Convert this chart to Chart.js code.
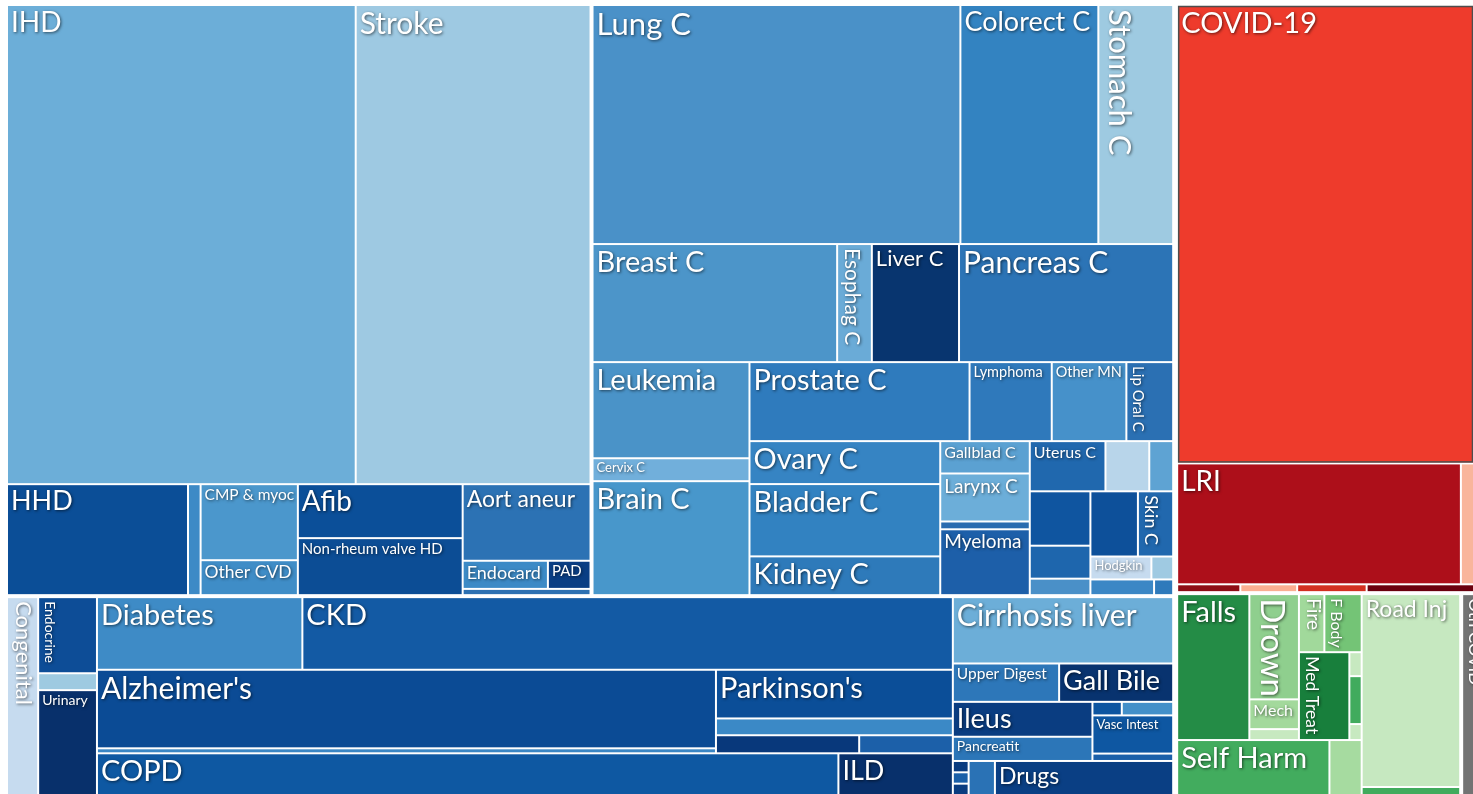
<!DOCTYPE html>
<html>
<head>
<meta charset="utf-8">
<script src="https://cdn.jsdelivr.net/npm/chart.js@4.4.1/dist/chart.umd.min.js"></script>
<style>
  html, body { margin: 0; padding: 0; background: #fff; overflow: hidden; }
  canvas { display: block; }
</style>
</head>
<body>
<canvas id="deaths" width="1476" height="797"></canvas>
<script>
// cardiovascular diseases
const cvdLabels = ['IHD', 'Stroke', 'HHD', '', 'CMP & myoc', 'Other CVD', 'Afib', 'Non-rheum valve HD', 'Aort aneur', 'Endocard', 'PAD', ''];
const cvdValues = [1672, 1126, 201, 14, 74, 34, 89, 94, 98, 24, 12, 8];
const cvdColors = ['#6caed8', '#9ec9e2', '#0b4e97', '#3d8ac6', '#4b97cc', '#3f8dc7', '#0b4f99', '#0c4d95', '#2c72b4', '#3c8ac6', '#0a3e84', '#2c70b2'];

// neoplasms
const neoLabels = ['Lung C', 'Colorect C', 'Stomach C', 'Breast C', 'Esophag C', 'Liver C', 'Pancreas C',
  'Leukemia', 'Cervix C', 'Brain C', 'Prostate C', 'Lymphoma', 'Other MN', 'Lip Oral C',
  'Ovary C', 'Bladder C', 'Kidney C', 'Gallblad C', 'Larynx C', '', 'Myeloma', 'Uterus C', '', '',
  '', '', '', '', 'Skin C', 'Hodgkin', '', '', ''];
const neoValues = [880, 330, 179, 289, 41, 103, 253,
  151, 36, 179, 174, 65, 59, 37,
  82, 138, 74, 29, 43, 7, 59, 38, 22, 12,
  33, 20, 10, 31, 23, 14, 5, 10, 3];
const neoColors = ['#4a91c8', '#3383c1', '#9ecae1', '#4c95c9', '#6aabd7', '#08356f', '#2c74b6',
  '#4a93c8', '#71afdb', '#4897cb', '#2f7bbd', '#2f79bb', '#4691ca', '#2b70b3',
  '#3684c3', '#3282c1', '#2e7aba', '#5ba1d2', '#6caed9', '#2a6cb0', '#1d5fa9', '#2068ae', '#b8d5ea', '#5ea3d3',
  '#0f55a0', '#1e66ad', '#4a90c8', '#0d509a', '#2168ae', '#c6dbef', '#9fcae2', '#3b87c5', '#2e7abb'];

// other non-communicable
const ncdLabels = ['Congenital', 'Endocrine', '', 'Urinary', 'Diabetes', 'CKD', "Alzheimer's", '', "Parkinson's", '', '', '',
  'COPD', 'ILD', 'Cirrhosis liver', 'Upper Digest', 'Gall Bile', 'Ileus', 'Pancreatit', '', '', 'Vasc Intest', '',
  '', '', '', '', 'Drugs'];
const ncdValues = [62, 45, 10, 62, 150, 475, 489, 31, 116, 40, 26, 17,
  311, 48, 147, 41, 44, 49, 34, 4, 7, 31, 6,
  1.8, 1.8, 1.8, 9, 61];
const ncdColors = ['#c6dbef', '#0d4d97', '#9ecae1', '#08306b', '#3e8bc6', '#135aa4', '#0b4b95', '#3a86c4', '#0b4e98', '#3b89c6', '#08387b', '#1c60a9',
  '#0e58a2', '#08306b', '#6caed8', '#2d77b9', '#08336f', '#0a3d81', '#2c76b8', '#0d55a0', '#4390c9', '#0e57a2', '#1b60a9',
  '#0a3c80', '#1a5fa8', '#0a3c80', '#2a72b5', '#0a3f84'];

// communicable
const commLabels = ['COVID-19', 'LRI', '', '', '', '', ''];
const commValues = [1373, 346, 16, 5, 4.5, 5.5, 8.5];
const commColors = ['#ee3b2c', '#ad0f1a', '#f9b59b', '#8e0d15', '#fbae91', '#d32f20', '#6b000e'];

// injuries
const injLabels = ['Falls', 'Drown', 'Mech', '', 'Fire', 'F Body', 'Med Treat', '', '', '', 'Self Harm', '', 'Road Inj', ''];
const injValues = [107, 53, 15, 5.5, 15, 22, 45, 3, 6, 2, 85, 18, 193, 8];
const injColors = ['#248c46', '#8fcf8e', '#a3d99c', '#c7e9c0', '#a1d99b', '#74c476', '#187f3c', '#c7e9c0', '#41ab5d', '#c7e9c0', '#42ac5e', '#a6dba0', '#c6e8c0', '#41ab5d'];

const othLabels = ['Oth COVID'];
const othValues = [28];
const othColors = ['#737373'];

// label styling
const fontPx = {
  'IHD': 28, 'Stroke': 30, 'Lung C': 31, 'Colorect C': 27, 'Stomach C': 31, 'COVID-19': 29,
  'Breast C': 29, 'Esophag C': 21, 'Liver C': 22, 'Pancreas C': 30, 'Leukemia': 29, 'Prostate C': 29,
  'Lymphoma': 14.5, 'Other MN': 14.5, 'Lip Oral C': 15, 'Cervix C': 13, 'Ovary C': 29, 'Gallblad C': 16,
  'Uterus C': 16, 'Larynx C': 19, 'Bladder C': 29, 'Brain C': 29, 'Myeloma': 19, 'Skin C': 18,
  'Hodgkin': 13, 'Kidney C': 29, 'HHD': 27, 'CMP & myoc': 15.5, 'Afib': 28, 'Aort aneur': 23,
  'Other CVD': 17.5, 'Non-rheum valve HD': 15, 'Endocard': 18, 'PAD': 15, 'LRI': 28,
  'Congenital': 22, 'Endocrine': 14, 'Urinary': 14, 'Diabetes': 29, 'CKD': 29, "Alzheimer's": 30,
  "Parkinson's": 29, 'COPD': 29, 'ILD': 27, 'Cirrhosis liver': 30, 'Upper Digest': 15.5, 'Gall Bile': 27,
  'Ileus': 27, 'Pancreatit': 14, 'Vasc Intest': 13, 'Drugs': 23, 'Falls': 29, 'Drown': 33,
  'Mech': 16, 'Fire': 19, 'F Body': 16, 'Med Treat': 17.5, 'Road Inj': 23, 'Self Harm': 29, 'Oth COVID': 17
};
const verticalLabels = ['Stomach C', 'Esophag C', 'Lip Oral C', 'Skin C', 'Congenital', 'Endocrine',
  'Drown', 'Fire', 'F Body', 'Med Treat', 'Oth COVID'];

const groups = {
  cvd: { labels: cvdLabels, values: cvdValues, colors: cvdColors },
  neo: { labels: neoLabels, values: neoValues, colors: neoColors },
  ncd: { labels: ncdLabels, values: ncdValues, colors: ncdColors },
  comm: { labels: commLabels, values: commValues, colors: commColors },
  inj: { labels: injLabels, values: injValues, colors: injColors },
  oth: { labels: othLabels, values: othValues, colors: othColors }
};

// nesting: ['h' | 'v', ...children], numbers index into the group's arrays
const cvdTree = ['v', ['h', 0, 1], ['h', 2, 3, ['v', 4, 5], ['v', 6, 7], ['v', 8, ['h', 9, 10], 11]]];
const neoTree = ['v', ['h', 0, 1, 2], ['h', 3, 4, 5, 6],
  ['h', ['v', 7, 8, 9],
    ['v', ['h', 10, 11, 12, 13],
      ['h', ['v', 14, 15, 16], ['v', 17, 18, 19, 20],
        ['v', ['h', 21, 22, 23],
          ['h', ['v', 24, 25, 26], ['v', ['h', 27, 28], ['h', 29, 30], ['h', 31, 32]]]]]]]];
const ncdTree = ['h', 0, ['v', 1, 2, 3],
  ['v', ['h', 4, 5], ['h', ['v', 6, 7], ['v', 8, 9, ['h', 10, 11]]], ['h', 12, 13]],
  ['v', 14, ['h', 15, 16], ['h', ['v', 17, 18], ['v', ['h', 19, 20], 21, 22]], ['h', ['v', 23, 24, 25], 26, 27]]];
const commTree = ['v', 0, ['h', 1, 2], ['h', 3, 4, 5, 6]];
const injTree = ['h', ['v', ['h', 0, ['v', 1, 2, 3], ['v', ['h', 4, 5], ['h', 6, ['v', 7, 8, 9]]]], ['h', 10, 11]], ['v', 12, 13]];

const root = ['h',
  { pad: 1, tree: ['v', ['h', { group: 'cvd', pad: 1, tree: cvdTree }, { group: 'neo', pad: 1, tree: neoTree }],
    { group: 'ncd', pad: 1, tree: ncdTree }] },
  { pad: 1, tree: ['v', { group: 'comm', pad: 1, tree: commTree },
    ['h', { group: 'inj', pad: 1, tree: injTree }, { group: 'oth', pad: 1, tree: 0 }]] }
];

const sumNode = (node, grp) => {
  if (typeof node === 'number') return grp.values[node];
  if (!Array.isArray(node)) return sumNode(node.tree, node.group ? groups[node.group] : grp);
  return node.slice(1).reduce((s, k) => s + sumNode(k, grp), 0);
};

const layoutNode = (node, grp, r, out) => {
  if (typeof node === 'number') {
    out.push({ ...r, label: grp.labels[node], color: grp.colors[node] });
    return;
  }
  if (!Array.isArray(node)) {
    const p = node.pad || 0;
    layoutNode(node.tree, node.group ? groups[node.group] : grp,
      { x0: r.x0 + p, y0: r.y0 + p, x1: r.x1 - p, y1: r.y1 - p }, out);
    return;
  }
  const dir = node[0];
  const kids = node.slice(1);
  const total = sumNode(node, grp);
  const span = dir === 'h' ? r.x1 - r.x0 : r.y1 - r.y0;
  let pos = dir === 'h' ? r.x0 : r.y0;
  kids.forEach(k => {
    const len = span * sumNode(k, grp) / total;
    const sub = dir === 'h'
      ? { x0: pos, x1: pos + len, y0: r.y0, y1: r.y1 }
      : { x0: r.x0, x1: r.x1, y0: pos, y1: pos + len };
    layoutNode(k, grp, sub, out);
    pos += len;
  });
};

const drawLabel = (ctx, c) => {
  const fs = fontPx[c.label];
  if (!fs) return;
  ctx.save();
  ctx.beginPath();
  ctx.rect(c.x0 + 1, c.y0 + 1, c.x1 - c.x0 - 2, c.y1 - c.y0 - 2);
  ctx.clip();
  ctx.font = fs + 'px Lato';
  ctx.fillStyle = '#ffffff';
  ctx.shadowColor = 'rgba(0,0,0,0.6)';
  ctx.shadowBlur = 3;
  ctx.shadowOffsetX = 1;
  ctx.shadowOffsetY = 1;
  ctx.textBaseline = 'alphabetic';
  if (verticalLabels.includes(c.label)) {
    ctx.translate(c.x0 + 3 + 0.25 * fs, c.y0 + 4);
    ctx.rotate(Math.PI / 2);
    ctx.fillText(c.label, 0, 0);
  } else {
    ctx.fillText(c.label, c.x0 + 4, c.y0 + 2 + 0.9 * fs);
  }
  ctx.restore();
};

const treemapCells = {
  id: 'treemapCells',
  afterDraw(chart) {
    const ctx = chart.ctx;
    const xs = chart.scales.x;
    const ys = chart.scales.y;
    const rect = {
      x0: xs.getPixelForValue(0), x1: xs.getPixelForValue(1),
      y0: ys.getPixelForValue(0), y1: ys.getPixelForValue(1)
    };
    const cells = [];
    layoutNode(root, null, rect, cells);
    ctx.save();
    cells.forEach(c => {
      ctx.fillStyle = c.color;
      ctx.fillRect(c.x0 + 1, c.y0 + 1, c.x1 - c.x0 - 2, c.y1 - c.y0 - 2);
      if (c.label === 'COVID-19') {
        ctx.strokeStyle = '#4d4d4d';
        ctx.lineWidth = 1.5;
        ctx.strokeRect(c.x0 + 1.5, c.y0 + 1.5, c.x1 - c.x0 - 3, c.y1 - c.y0 - 3);
      }
    });
    ctx.restore();
    cells.forEach(c => drawLabel(ctx, c));
  }
};

new Chart(document.getElementById('deaths'), {
  type: 'scatter',
  data: { datasets: [] },
  options: {
    responsive: false,
    animation: false,
    layout: { padding: { left: 5, top: 3, right: 0, bottom: 0 } },
    scales: {
      x: { type: 'linear', display: false, min: 0, max: 1 },
      y: { type: 'linear', display: false, min: 0, max: 1, reverse: true }
    },
    plugins: { legend: { display: false }, tooltip: { enabled: false } }
  },
  plugins: [treemapCells]
});
</script>
</body>
</html>
